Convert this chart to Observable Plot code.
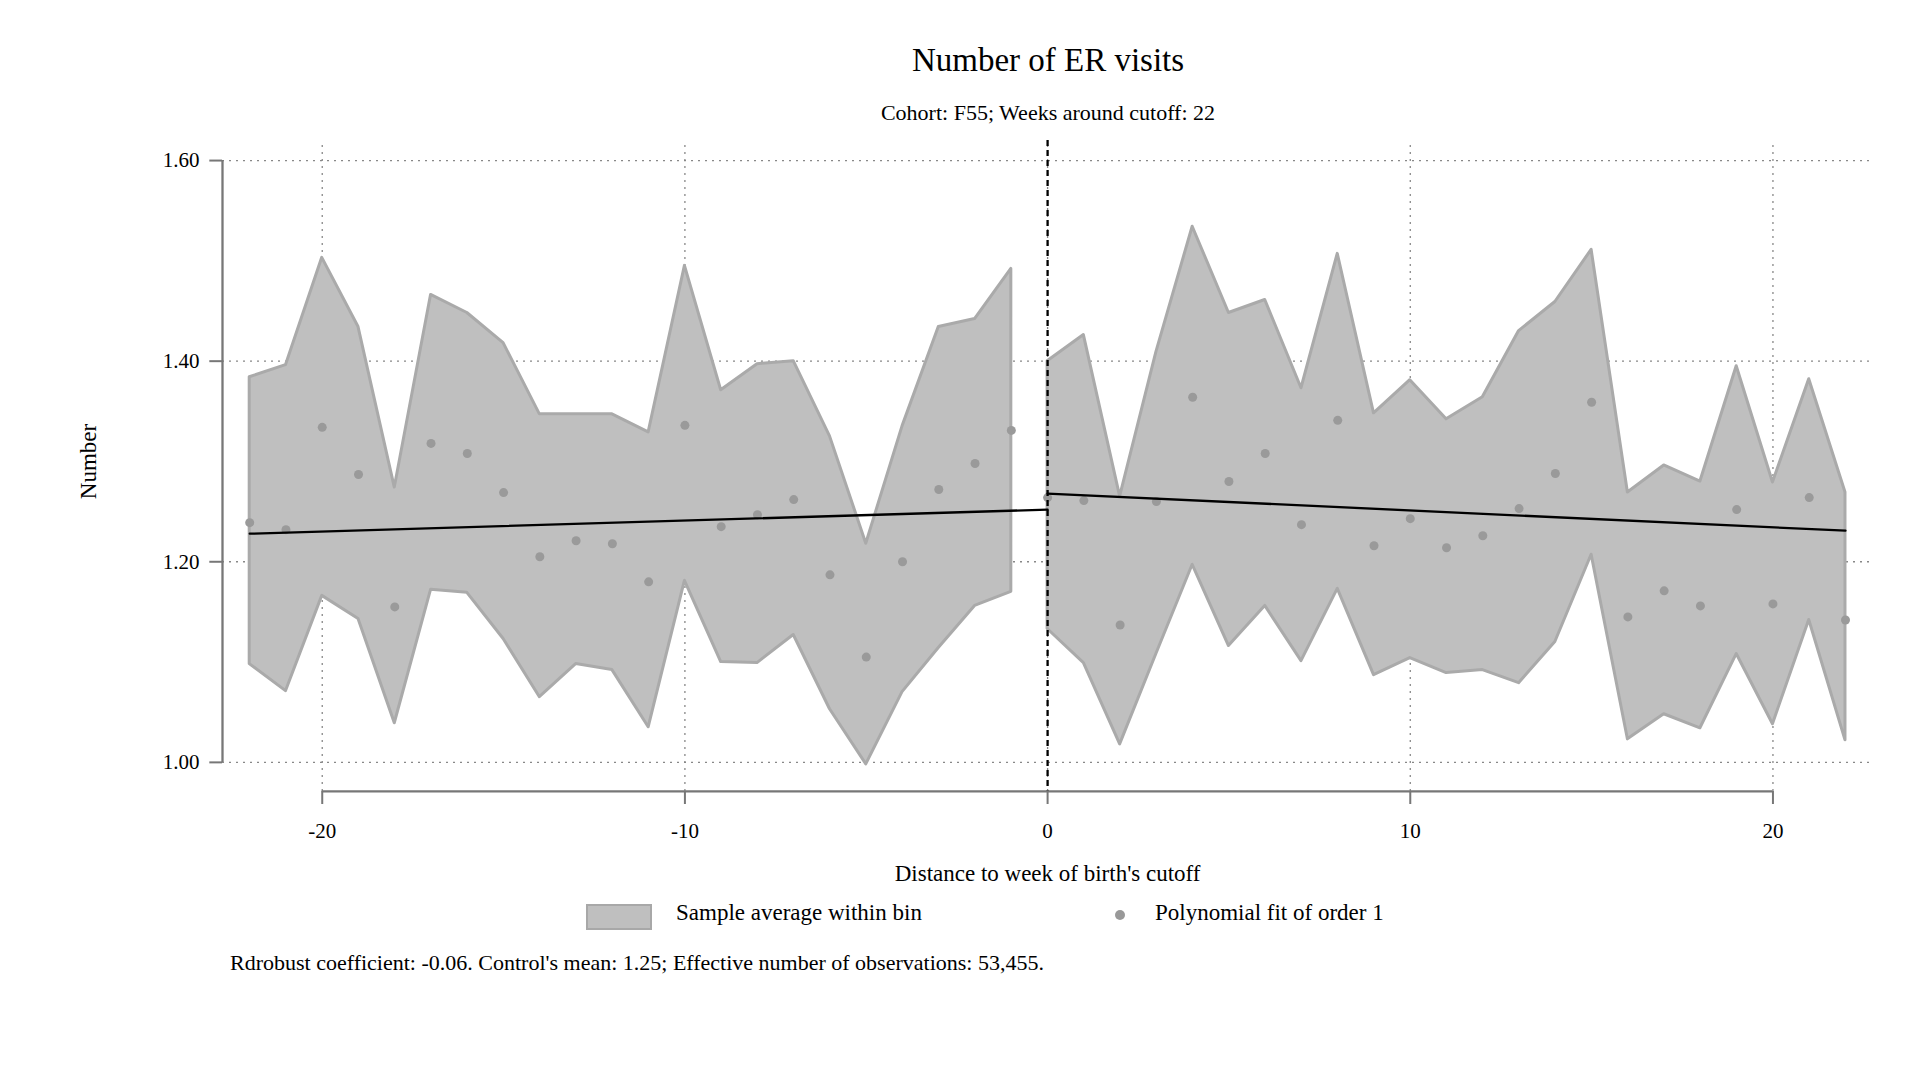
<!DOCTYPE html>
<html><head><meta charset="utf-8">
<script src="https://cdn.jsdelivr.net/npm/d3@7"></script>
<script src="https://cdn.jsdelivr.net/npm/@observablehq/plot@0.6"></script>
<style>
body{margin:0;background:#fff;font-family:"Liberation Serif",serif;width:1920px;}
#title{text-align:center;font-size:33px;padding-top:42px;height:40px;margin-left:176px;}
#sub{text-align:center;font-size:22px;margin-top:18px;height:30px;margin-left:176px;}
#legend{position:relative;height:60px;font-size:23px;}
#caption{font-size:22px;margin-left:230px;margin-top:0px;}
</style></head><body>
<div id="title">Number of ER visits</div>
<div id="sub">Cohort: F55; Weeks around cutoff: 22</div>
<div id="chart"></div>
<div id="legend">
  <div style="position:absolute;left:586px;top:14px;width:62px;height:22px;background:#bfbfbf;border:2px solid #a8a8a8;"></div>
  <div style="position:absolute;left:676px;top:10px;">Sample average within bin</div>
  <div style="position:absolute;left:1115px;top:20px;width:10px;height:10px;border-radius:50%;background:#999;"></div>
  <div style="position:absolute;left:1155px;top:10px;">Polynomial fit of order 1</div>
</div>
<div id="caption">Rdrobust coefficient: -0.06. Control's mean: 1.25; Effective number of observations: 53,455.</div>
<script>
const weeks = d3.range(-22, 23);
const means = [1.239,1.232,1.334,1.287,1.155,1.318,1.308,1.269,1.205,1.221,1.218,1.180,1.336,1.235,1.247,1.262,1.187,1.105,1.200,1.272,1.298,1.331,
  1.264,1.261,1.137,1.260,1.364,1.280,1.308,1.237,1.341,1.216,1.243,1.214,1.226,1.253,1.288,1.359,1.145,1.171,1.156,1.252,1.158,1.264,1.142];
const upper = [1.384,1.396,1.503,1.434,1.274,1.466,1.448,1.418,1.347,1.347,1.347,1.329,1.495,1.371,1.397,1.400,1.325,1.218,1.335,1.434,1.442,1.492,
  1.400,1.426,1.265,1.409,1.534,1.448,1.461,1.373,1.507,1.348,1.381,1.342,1.364,1.430,1.459,1.511,1.269,1.296,1.280,1.395,1.279,1.382,1.269];
const lower = [1.098,1.071,1.166,1.143,1.039,1.172,1.169,1.123,1.065,1.098,1.092,1.035,1.181,1.100,1.099,1.127,1.053,0.998,1.070,1.114,1.156,1.170,
  1.133,1.099,1.018,1.108,1.197,1.116,1.156,1.101,1.173,1.087,1.104,1.089,1.092,1.079,1.120,1.207,1.023,1.048,1.034,1.108,1.038,1.142,1.022];
const fitLeft = [[-22,1.228],[0,1.252]];
const fitRight = [[0,1.268],[22,1.231]];
const yTicks = [1.0,1.2,1.4,1.6];
const xTicks = [-20,-10,0,10,20];

const data = weeks.map((w,i)=>({w, m:means[i], hi:upper[i], lo:lower[i], side: w<0 ? "L" : "R"}));
const fits = [...fitLeft.map(d=>({x:d[0],y:d[1],s:"L"})), ...fitRight.map(d=>({x:d[0],y:d[1],s:"R"}))];
const axisY = 0.971, axisX = -22.75;

const chart = Plot.plot({
  width: 1920, height: 760,
  marginLeft: 222, marginRight: 46, marginTop: 10, marginBottom: 88,
  x: {domain: [-22.75, 22.8], axis: null},
  y: {domain: [0.96, 1.62], axis: null},
  style: {fontFamily: "Liberation Serif, serif", fontSize: "20px", color: "#000", overflow: "visible"},
  marks: [
    Plot.ruleY(yTicks, {x1: axisX, x2: 22.8, stroke: "#888", strokeDasharray: "2,5", strokeWidth: 1.3}),
    Plot.ruleX(xTicks, {y1: axisY, y2: 1.62, stroke: "#888", strokeDasharray: "2,5", strokeWidth: 1.3}),
    Plot.areaY(data, {x: "w", y1: "lo", y2: "hi", z: "side", fill: "#bfbfbf", stroke: "#aaaaaa", strokeWidth: 3}),
    Plot.dot(data, {x: "w", y: "m", r: 4.5, fill: "#9a9a9a"}),
    Plot.line(fits, {x: "x", y: "y", z: "s", stroke: "#000", strokeWidth: 2.3}),
    Plot.ruleX([0], {y1: 1.62, y2: axisY, stroke: "#000", strokeWidth: 2.3, strokeDasharray: "6,4"}),
    // axes
    Plot.ruleY([axisY], {x1: -20, x2: 20, stroke: "#777", strokeWidth: 2.3}),
    Plot.ruleX(xTicks, {y1: axisY, y2: 0.958, stroke: "#777", strokeWidth: 2}),
    Plot.text(xTicks, {x: d=>d, y: axisY, dy: 40, text: d=>String(d), fontSize: 21}),
    Plot.text(["Distance to week of birth's cutoff"], {x: 0, y: axisY, dy: 82, fontSize: 23}),
    Plot.ruleX([axisX], {y1: 1.0, y2: 1.6, stroke: "#777", strokeWidth: 2.3}),
    Plot.ruleY(yTicks, {x1: axisX, x2: -23.1, stroke: "#777", strokeWidth: 2}),
    Plot.text(yTicks, {x: axisX, y: d=>d, dx: -23, textAnchor: "end", text: d=>d.toFixed(2), fontSize: 21}),
    Plot.text(["Number"], {x: axisX, y: 1.3, dx: -134, rotate: -90, fontSize: 23})
  ]
});
d3.select("#chart").append(() => chart);
</script>
</body></html>
